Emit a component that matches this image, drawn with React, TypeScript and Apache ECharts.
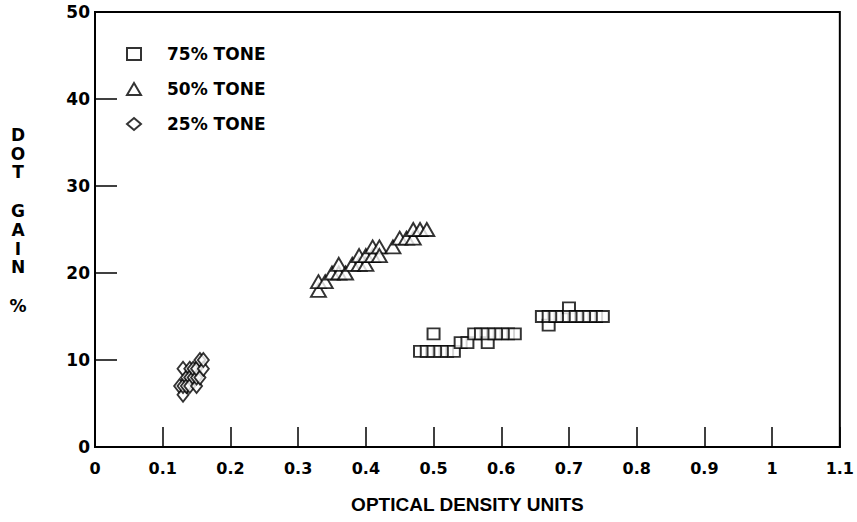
import React, { useEffect, useRef } from "react";
import * as echarts from "echarts";

const xTicks = [0, 0.1, 0.2, 0.3, 0.4, 0.5, 0.6, 0.7, 0.8, 0.9, 1, 1.1];
const yTicks = [0, 10, 20, 30, 40, 50];

const tone75: number[][] = [
  [0.48, 11], [0.49, 11], [0.5, 13], [0.5, 11], [0.51, 11], [0.52, 11], [0.53, 11],
  [0.54, 12], [0.55, 12], [0.56, 13], [0.57, 13], [0.58, 12], [0.58, 13], [0.59, 13],
  [0.6, 13], [0.61, 13], [0.62, 13],
  [0.66, 15], [0.67, 14], [0.67, 15], [0.68, 15], [0.69, 15], [0.7, 16], [0.7, 15],
  [0.71, 15], [0.72, 15], [0.73, 15], [0.74, 15], [0.75, 15],
];

const tone50: number[][] = [
  [0.33, 18], [0.33, 19], [0.34, 19], [0.35, 20], [0.36, 20], [0.36, 21], [0.37, 20],
  [0.38, 21], [0.39, 21], [0.39, 22], [0.4, 21], [0.4, 22], [0.41, 22], [0.41, 23],
  [0.42, 23], [0.42, 22], [0.44, 23], [0.45, 24], [0.46, 24], [0.47, 24], [0.47, 25],
  [0.48, 25], [0.49, 25],
];

const tone25: number[][] = [
  [0.125, 7], [0.13, 6], [0.13, 7], [0.13, 9], [0.135, 8], [0.135, 7], [0.14, 9],
  [0.14, 8], [0.14, 7], [0.145, 8], [0.145, 9], [0.15, 7], [0.15, 8], [0.15, 9],
  [0.155, 10], [0.155, 8], [0.16, 9], [0.16, 10],
];

const seriesNames = ["75% TONE", "50% TONE", "25% TONE"];
const yTitleWords = ["DOT", "GAIN", "%"];

const FONT = "'DejaVu Sans', 'Liberation Sans', Arial, sans-serif";
const FONT2 = "'Liberation Sans', Arial, sans-serif";

export default function App() {
  const ref = useRef<HTMLDivElement>(null);
  useEffect(() => {
    if (!ref.current) return;
    const chart = echarts.init(ref.current, null, { renderer: "svg" });
    const markerStyle = { color: "#fff", borderColor: "#000", borderWidth: 1.9 };
    const xLabel = (v: number) => {
      const r = Math.round(v * 10) / 10;
      return String(r);
    };

    // stacked letters of the y-axis title
    const letterStep = 18.7;
    const wordGap = 20;
    const titleGraphics: any[] = [];
    let yCur = 135;
    yTitleWords.forEach((w, wi) => {
      if (wi > 0) yCur += wordGap;
      for (const ch of w.split("")) {
        titleGraphics.push({
          type: "text",
          x: 18,
          y: yCur,
          style: {
            text: ch,
            fontFamily: FONT,
            fontWeight: "bold",
            fontSize: 17,
            lineHeight: 17,
            fill: "#000",
            align: "center",
            verticalAlign: "middle",
          },
        });
        yCur += letterStep;
      }
    });

    chart.setOption({
      animation: false,
      backgroundColor: "#fff",
      grid: {
        left: 95,
        right: 7,
        top: 12,
        bottom: 75,
        show: true,
        borderColor: "#000",
        borderWidth: 2,
      },
      legend: {
        orient: "vertical",
        left: 121,
        top: 40,
        itemWidth: 14,
        itemHeight: 12,
        itemGap: 17,
        data: seriesNames,
        textStyle: {
          fontFamily: FONT,
          fontWeight: "bold",
          fontSize: 17,
          lineHeight: 18,
          color: "#000",
          padding: [0, 0, 0, 21],
        },
      },
      xAxis: {
        type: "value",
        min: 0,
        max: 1.1,
        interval: 0.1,
        splitLine: { show: false },
        axisLine: { show: true, lineStyle: { color: "#000", width: 2 } },
        axisTick: { show: true, inside: true, length: 20, lineStyle: { color: "#000", width: 1.5 } },
        axisLabel: {
          formatter: xLabel,
          color: "#000",
          fontFamily: FONT,
          fontWeight: "bold",
          fontSize: 16,
          margin: 13,
        },
        name: "OPTICAL DENSITY UNITS",
        nameLocation: "middle",
        nameGap: 48,
        nameTextStyle: { fontFamily: FONT2, fontWeight: "bold", fontSize: 19, color: "#000" },
      },
      yAxis: {
        type: "value",
        min: 0,
        max: 50,
        interval: 10,
        splitLine: { show: false },
        axisLine: { show: true, lineStyle: { color: "#000", width: 2 } },
        axisTick: { show: true, inside: true, length: 22, lineStyle: { color: "#000", width: 1.5 } },
        axisLabel: {
          color: "#000",
          fontFamily: FONT,
          fontWeight: "bold",
          fontSize: 17,
          margin: 5,
        },
      },
      graphic: titleGraphics,
      series: [
        {
          name: seriesNames[0],
          type: "scatter",
          symbol: "rect",
          symbolSize: [12, 11],
          itemStyle: markerStyle,
          data: tone75,
        },
        {
          name: seriesNames[1],
          type: "scatter",
          symbol: "triangle",
          symbolSize: [15, 13],
          itemStyle: markerStyle,
          data: tone50,
        },
        {
          name: seriesNames[2],
          type: "scatter",
          symbol: "diamond",
          symbolSize: [11, 14],
          itemStyle: markerStyle,
          data: tone25,
        },
      ],
    });
    return () => chart.dispose();
  }, []);
  return <div ref={ref} style={{ width: 857, height: 522, position: "absolute", left: 0, top: 0 }} />;
}
